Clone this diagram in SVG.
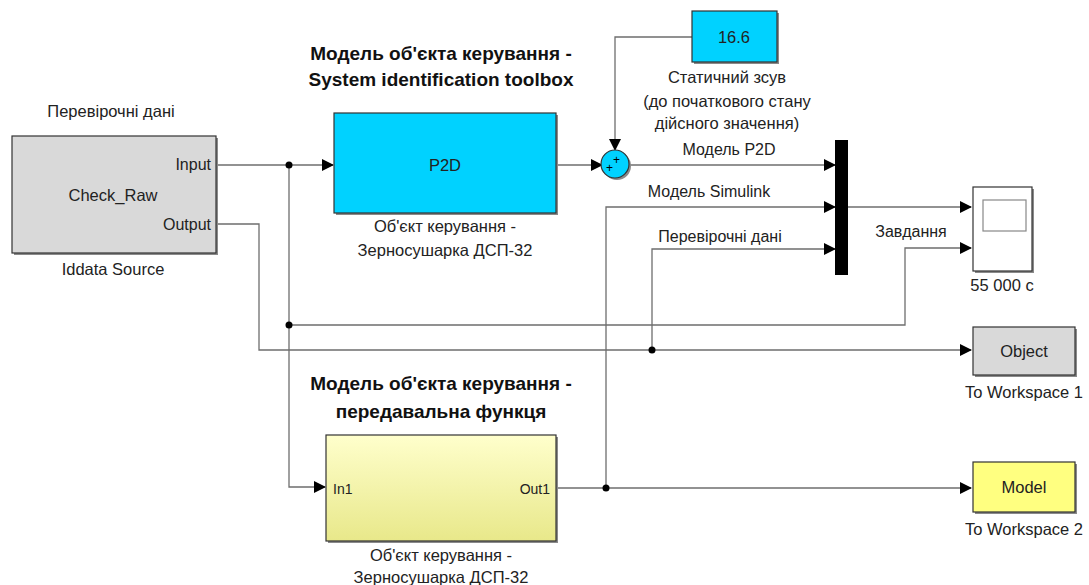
<svg xmlns="http://www.w3.org/2000/svg" width="1089" height="585" viewBox="0 0 1089 585">
<style>
text{font-family:"Liberation Sans",Arial,sans-serif;fill:#222;}
.t{font-size:16.5px;text-anchor:middle;}
.l{font-size:16px;text-anchor:middle;}
.b{font-size:19px;font-weight:bold;text-anchor:middle;fill:#111;}
.w{fill:none;stroke:#6e6e6e;stroke-width:1.3;}
.blk{stroke:#333;stroke-width:1.2;}
.sh{fill:#8a8a8a;}
</style>
<defs>
<marker id="ar" markerWidth="12" markerHeight="12" refX="11" refY="6" orient="auto" markerUnits="userSpaceOnUse">
<path d="M0,0 L12,6 L0,12 Z" fill="#000"/>
</marker>
<linearGradient id="yg" x1="0" y1="0" x2="0" y2="1">
<stop offset="0" stop-color="#ffffcc"/>
<stop offset="1" stop-color="#e8e88a"/>
</linearGradient>
</defs>

<g id="titles">
<text class="b" x="441" y="60">Модель об'єкта керування -</text>
<text class="b" x="441" y="86">System identification toolbox</text>
<text class="b" x="441" y="390">Модель об'єкта керування -</text>
<text class="b" x="441" y="418">передавальна функця</text>
</g>

<g id="connectors">
<path class="w" d="M216,165 H333" marker-end="url(#ar)"/>
<path class="w" d="M289,165 V487 H325" marker-end="url(#ar)"/>
<path class="w" d="M289,325 H905 V248 H971" marker-end="url(#ar)"/>
<path class="w" d="M216,224 H259 V350 H971" marker-end="url(#ar)"/>
<path class="w" d="M652,350 V249 H835" marker-end="url(#ar)"/>
<path class="w" d="M556,165 H602" marker-end="url(#ar)"/>
<path class="w" d="M692,37 H615 V150" marker-end="url(#ar)"/>
<path class="w" d="M630,165 H835" marker-end="url(#ar)"/>
<path class="w" d="M556,488 H971" marker-end="url(#ar)"/>
<path class="w" d="M606,488 V207 H835" marker-end="url(#ar)"/>
<path class="w" d="M848,207 H971" marker-end="url(#ar)"/>
<circle cx="289" cy="165" r="3.5" fill="#000"/>
<circle cx="289" cy="325" r="3.5" fill="#000"/>
<circle cx="652" cy="350" r="3.5" fill="#000"/>
<circle cx="606" cy="488" r="3.5" fill="#000"/>
<text class="l" x="729" y="155">Модель P2D</text>
<text class="l" x="709" y="197">Модель Simulink</text>
<text class="l" x="720" y="242">Перевірочні дані</text>
<text class="l" x="911" y="237">Завдання</text>
</g>

<g id="iddata">
<text class="t" x="111" y="117">Перевірочні дані</text>
<rect class="sh" x="14" y="138" width="204" height="117"/>
<rect class="blk" x="12" y="136" width="204" height="117" fill="#d9d9d9"/>
<text x="211" y="170" style="font-size:16px;text-anchor:end">Input</text>
<text x="211" y="230" style="font-size:16px;text-anchor:end">Output</text>
<text class="t" x="113" y="201">Check_Raw</text>
<text class="t" x="113" y="275">Iddata Source</text>
</g>

<g id="p2d">
<rect class="sh" x="336" y="115" width="222" height="100"/>
<rect class="blk" x="334" y="113" width="222" height="100" fill="#00d2ff"/>
<text class="t" x="445" y="171">P2D</text>
<text class="t" x="445" y="232">Об'єкт керування -</text>
<text class="t" x="445" y="256">Зерносушарка ДСП-32</text>
</g>

<g id="constant">
<rect class="sh" x="694" y="13" width="85" height="51"/>
<rect class="blk" x="692" y="11" width="85" height="51" fill="#00d2ff"/>
<text class="t" x="734" y="43">16.6</text>
<text class="t" x="727" y="83">Статичний зсув</text>
<text class="t" x="727" y="107">(до початкового стану</text>
<text class="t" x="727" y="129">дійсного значення)</text>
</g>

<g id="sum">
<circle cx="617" cy="166" r="14" fill="#8a8a8a"/>
<circle class="blk" cx="615" cy="164" r="14" fill="#00d2ff"/>
<text x="606" y="172" style="font-size:12px;fill:#000">+</text>
<text x="613" y="164" style="font-size:12px;fill:#000">+</text>
</g>

<g id="mux">
<rect x="835" y="140" width="13" height="135" fill="#000"/>
</g>

<g id="scope">
<rect class="sh" x="975" y="189" width="59" height="84"/>
<rect class="blk" x="973" y="187" width="59" height="84" fill="#fff"/>
<rect x="983" y="200" width="43" height="31" fill="#fff" stroke="#888" stroke-width="1.2"/>
<text class="t" x="1002" y="291">55 000 c</text>
</g>

<g id="object">
<rect class="sh" x="975" y="329" width="102" height="48"/>
<rect class="blk" x="973" y="327" width="102" height="48" fill="#d9d9d9"/>
<text class="t" x="1024" y="357">Object</text>
<text class="t" x="1024" y="398">To Workspace 1</text>
</g>

<g id="tf">
<rect class="sh" x="328" y="437" width="230" height="106"/>
<rect class="blk" x="326" y="435" width="230" height="106" fill="url(#yg)"/>
<text x="333" y="494" style="font-size:14px">In1</text>
<text x="550" y="494" style="font-size:14px;text-anchor:end">Out1</text>
<text class="t" x="441" y="561">Об'єкт керування -</text>
<text class="t" x="441" y="583">Зерносушарка ДСП-32</text>
</g>

<g id="model">
<rect class="sh" x="975" y="464" width="102" height="50"/>
<rect class="blk" x="973" y="462" width="102" height="50" fill="#ffff80"/>
<text class="t" x="1024" y="493">Model</text>
<text class="t" x="1024" y="535">To Workspace 2</text>
</g>
</svg>
